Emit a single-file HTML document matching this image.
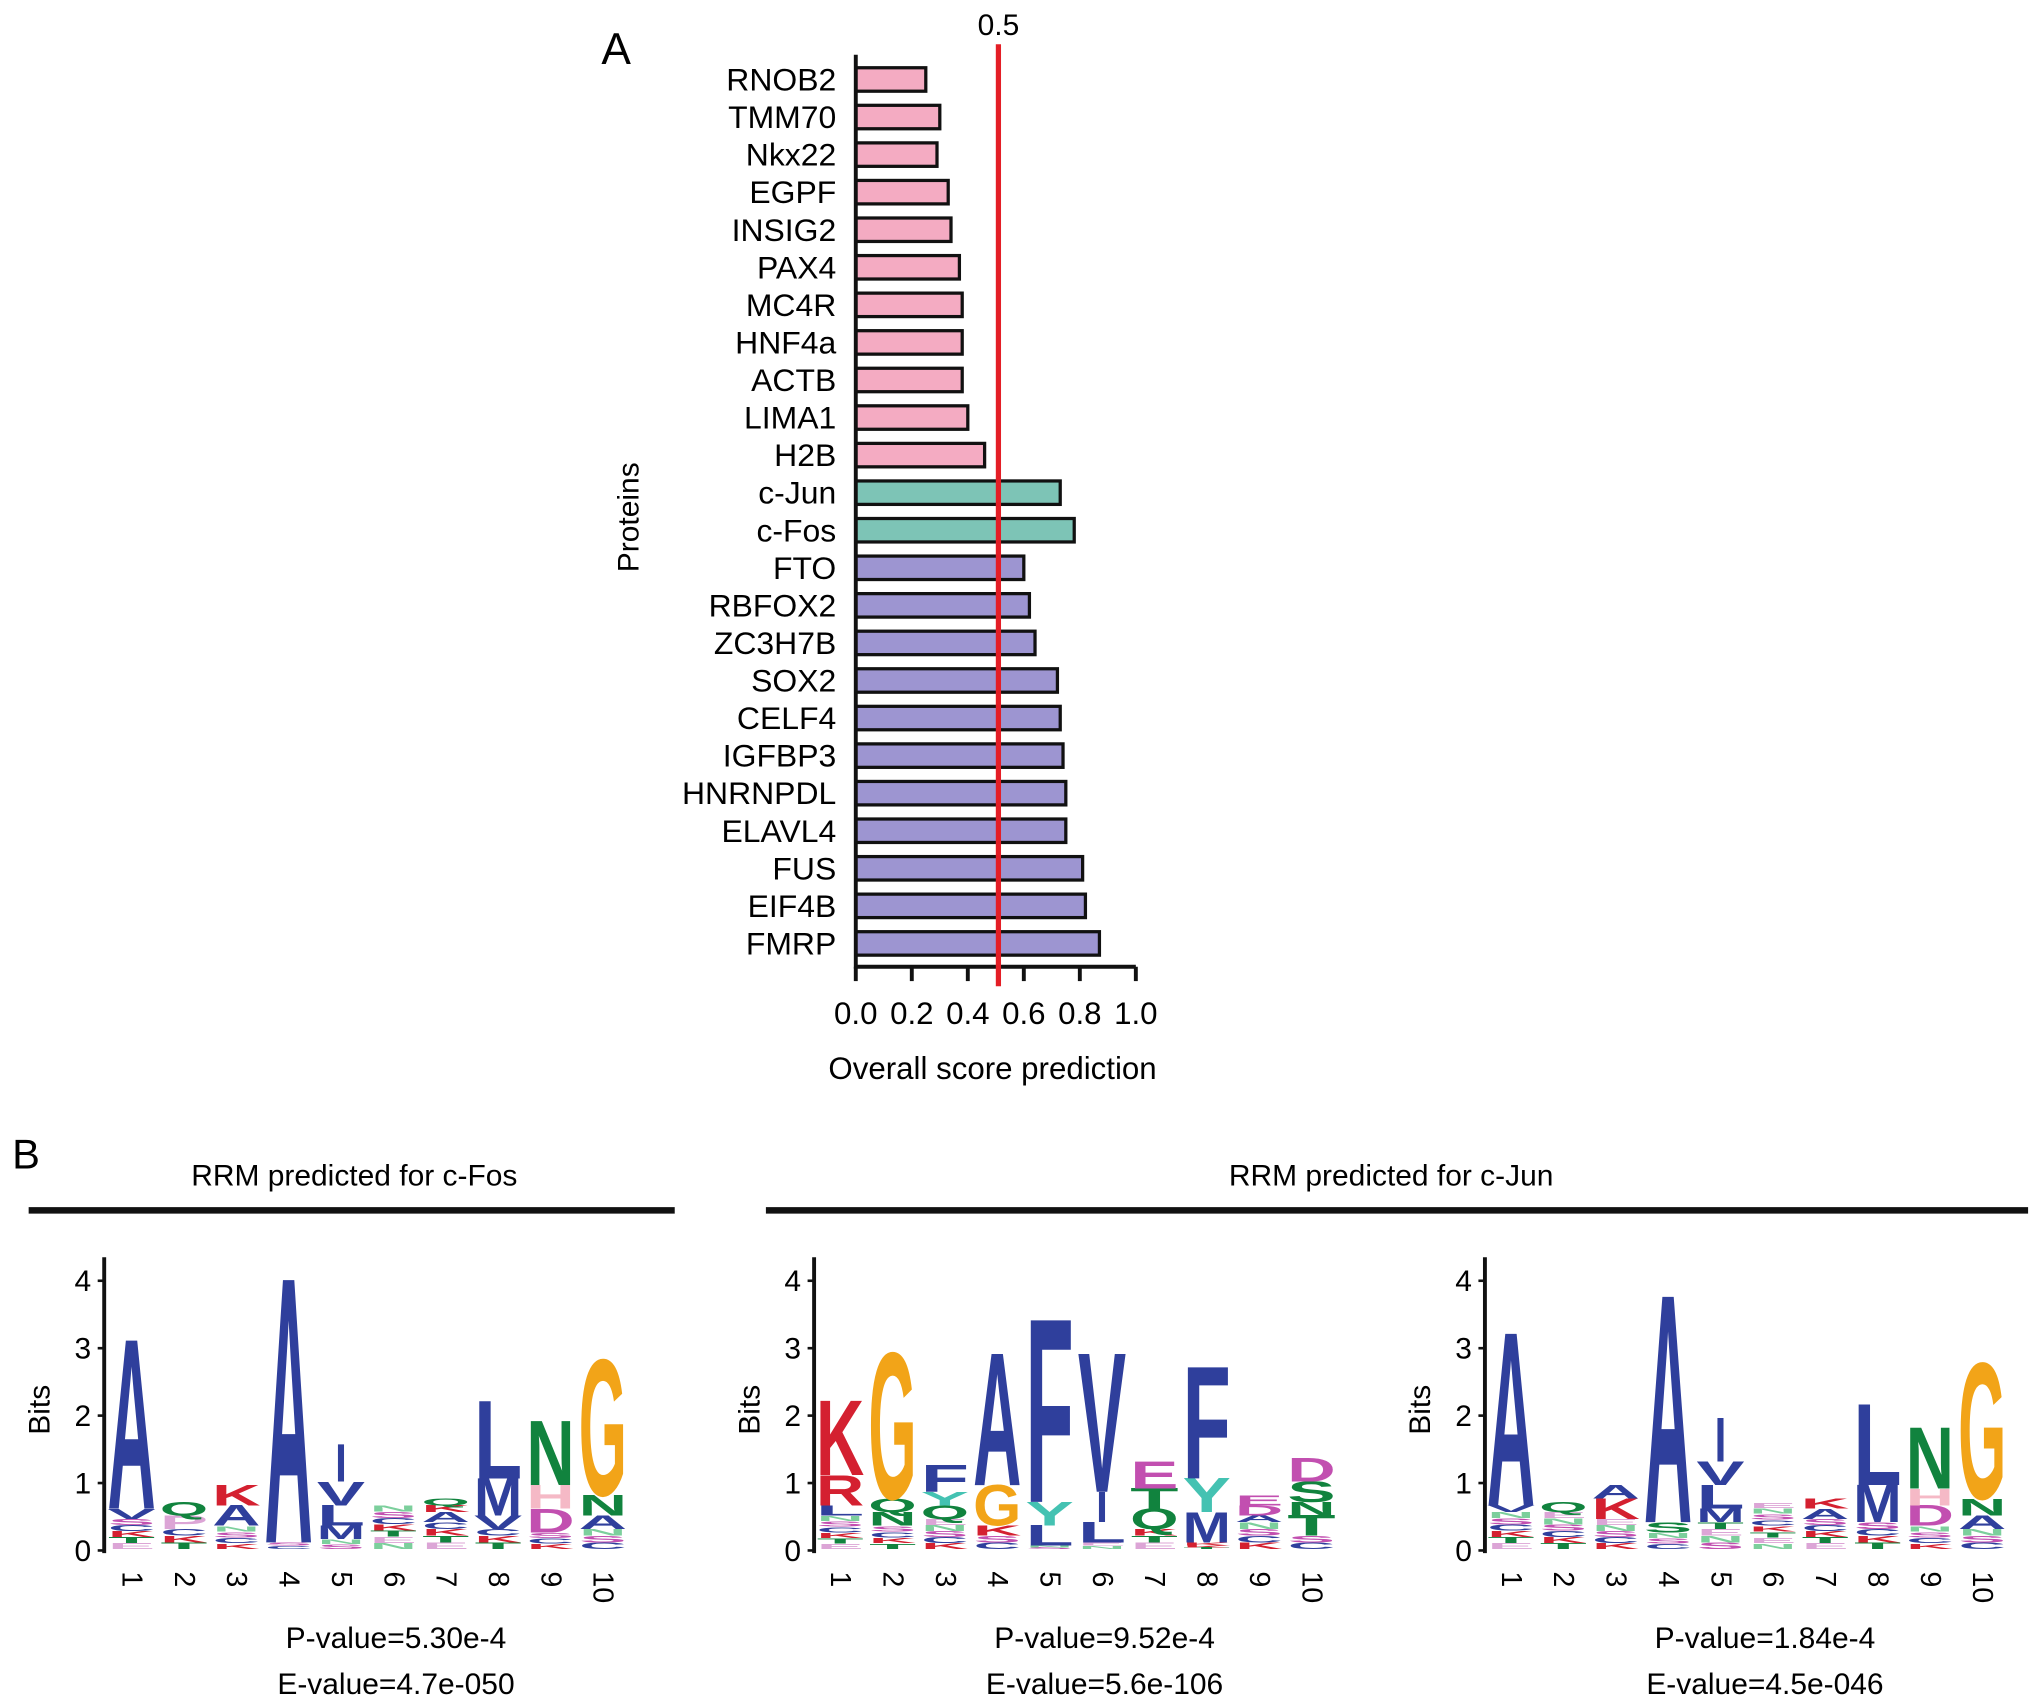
<!DOCTYPE html>
<html><head><meta charset="utf-8"><style>
html,body{margin:0;padding:0;background:#fff;}
svg{display:block;}
text{font-family:"Liberation Sans",Arial,sans-serif;}
</style></head><body>
<svg id="fig" width="2032" height="1699" viewBox="0 0 1560 1304" preserveAspectRatio="none" xmlns="http://www.w3.org/2000/svg">
<g id="panelA"></g>
<g id="panelB"></g>
</svg>
<script>
// ---------- Panel A data ----------
const proteins = ["RNOB2","TMM70","Nkx22","EGPF","INSIG2","PAX4","MC4R","HNF4a","ACTB","LIMA1","H2B","c-Jun","c-Fos","FTO","RBFOX2","ZC3H7B","SOX2","CELF4","IGFBP3","HNRNPDL","ELAVL4","FUS","EIF4B","FMRP"];
const scores = [0.25,0.30,0.29,0.33,0.34,0.37,0.38,0.38,0.38,0.40,0.46,0.73,0.78,0.60,0.62,0.64,0.72,0.73,0.74,0.75,0.75,0.81,0.82,0.87];
const groups = ["neg","neg","neg","neg","neg","neg","neg","neg","neg","neg","neg","target","target","pos","pos","pos","pos","pos","pos","pos","pos","pos","pos","pos"];
const xTicks = [0.0,0.2,0.4,0.6,0.8,1.0];
const threshold = 0.5;

// ---------- Panel B data (stacks bottom->top: [letter, bits]; number = filler bits) ----------
const logoFos = [
 [0.45,["V",0.15],["A",2.5]],
 [0.3,["P",0.2],["Q",0.2]],
 [0.35,["A",0.3],["K",0.3]],
 [0.1,["A",3.9]],
 [0.15,["M",0.2],["L",0.3],["V",0.35],["I",0.55]],
 [0.65],
 [0.4,["A",0.15],["K",0.1],["Q",0.1]],
 [0.3,["V",0.2],["M",0.55],["L",1.15]],
 [0.25,["D",0.35],["H",0.35],["N",0.95]],
 [0.3,["A",0.2],["N",0.3],["G",2.0]]
];
const logoJun1 = [
 [0.5,["L",0.15],["R",0.45],["K",1.1]],
 [0.35,["N",0.2],["Q",0.2],["G",2.15]],
 [0.45,["Q",0.2],["Y",0.2],["F",0.4]],
 [0.2,["K",0.15],["G",0.6],["A",1.95]],
 [0.05,["L",0.3],["Y",0.35],["F",2.7]],
 [0.1,["L",0.3],["I",0.45],["V",2.05]],
 [0.3,["Q",0.3],["T",0.3],["E",0.4]],
 [0.05,["K",0.05],["M",0.45],["Y",0.5],["F",1.65]],
 [0.4,["A",0.1],["D",0.15],["E",0.15]],
 [0.2,["T",0.3],["N",0.2],["S",0.3],["D",0.35]]
];
const logoJun2 = [
 [0.55,["V",0.1],["A",2.55]],
 [0.55,["Q",0.15]],
 [0.45,["K",0.3],["A",0.2]],
 [0.25,["S",0.15],["A",3.35]],
 [0.4,["M",0.2],["L",0.35],["V",0.35],["I",0.65]],
 [0.7],
 [0.45,["A",0.15],["K",0.15]],
 [0.4,["M",0.55],["L",1.2]],
 [0.35,["D",0.3],["H",0.25],["N",0.9]],
 [0.3,["A",0.2],["N",0.25],["G",2.0]]
];
const bitTicks = [0,1,2,3,4];

const NS = "http://www.w3.org/2000/svg";
function mk(tag, attrs, parent, txt){
  const e = document.createElementNS(NS, tag);
  for (const k in attrs) e.setAttribute(k, attrs[k]);
  if (txt !== undefined) e.textContent = txt;
  parent.appendChild(e);
  return e;
}

// ---------- Panel A ----------
const A = document.getElementById('panelA');
const x0 = 657, x1 = 872;
const xs = v => x0 + v*(x1-x0);
const rowY = i => 61 + i*28.83;
const colors = {neg:"#f4abc2", target:"#7dc4b6", pos:"#9d95d1"};

let t = mk('text',{x:473,y:49,'font-size':34,'text-anchor':'middle'},A,"A");



proteins.forEach((p,i)=>{
  const r = mk('rect',{x:xs(0),y:rowY(i)-9,width:xs(scores[i])-xs(0),height:18,fill:colors[groups[i]],stroke:'#111','stroke-width':2.5},A);
  
  
  const l = mk('text',{x:642,y:rowY(i)+8.5,'font-size':24.5,'text-anchor':'end'},A,p);
  
  
});
let ax = mk('path',{d:`M${x0},42 V742 H${x1}`,fill:'none',stroke:'#111','stroke-width':3},A);


xTicks.forEach(v=>{
  const tk = mk('line',{x1:xs(v),x2:xs(v),y1:742,y2:753,stroke:'#111','stroke-width':3},A);
  
  
  const tl = mk('text',{x:xs(v),y:786,'font-size':24,'text-anchor':'middle'},A,v.toFixed(1));
  
  
});
let rl = mk('line',{x1:xs(threshold)+2,x2:xs(threshold)+2,y1:34,y2:757,stroke:'#e41e26','stroke-width':4},A);


let rlt = mk('text',{x:xs(threshold)+2,y:27,'font-size':23,'text-anchor':'middle'},A,"0.5");


let xt = mk('text',{x:762,y:828,'font-size':24,'text-anchor':'middle'},A,"Overall score prediction");


let yt = mk('text',{x:0,y:0,'font-size':23,'text-anchor':'middle',transform:'translate(490,397) rotate(-90)'},A,"Proteins");



// ---------- Panel B ----------
const B = document.getElementById('panelB');
let bl = mk('text',{x:20,y:897,'font-size':32,'text-anchor':'middle'},B,"B");


[[272,"RRM predicted for c-Fos",22,518],[1068,"RRM predicted for c-Jun",588,1557]].forEach(([cx,s,a,b],k)=>{
  const tt = mk('text',{x:cx,y:910,'font-size':23,'text-anchor':'middle'},B,s);
  
  
  const ln = mk('line',{x1:a,x2:b,y1:929,y2:929,stroke:'#111','stroke-width':5},B);
  
  
});

const letterColor = {A:"#2f3f9c",V:"#2f3f9c",L:"#2f3f9c",M:"#2f3f9c",F:"#2f3f9c",I:"#2f3f9c",W:"#2f3f9c",C:"#2f3f9c",
  K:"#d42030",R:"#d42030",N:"#11833e",Q:"#11833e",S:"#11833e",T:"#11833e",G:"#f2a418",
  D:"#c24fb0",E:"#c24fb0",H:"#f5b9c6",P:"#dca5d6",Y:"#44c2b2"};
const fillerSeq = [["E","#dca5d6"],["T","#11833e"],["K","#d42030"],["C","#2f3f9c"],["S","#c24fb0"],["N","#7ccf9c"]];
const bitPx = 51.75;
function drawLetter(g, ch, x, w, yBase, h, col){
  if (h < 0.5) return;
  if (ch === "I") w = 9;
  mk('text',{x:0,y:0,'font-size':100,'font-weight':'bold',textLength:66,lengthAdjust:'spacingAndGlyphs',fill:col,
    transform:`translate(${x-w/2},${yBase}) scale(${w/66},${h/69})`},g,ch);
}
function drawLogo(data, axisX, colX0, name, pv, ev, pvx){
  const g = mk('g',{},B);
  
  
  const y0 = 1190;
  const yb = b => y0 - b*bitPx;
  const colX = i => colX0 + i*40.2;
  data.forEach((stack,i)=>{
    let cur = 0.02;
    const cx = colX(i);
    const cg = mk('g',{},g);
    
    
    stack.forEach((it)=>{
      if (typeof it === 'number'){
        const n = Math.max(2, Math.round(it/0.09));
        for (let q=0;q<n;q++){
          const f = fillerSeq[(q+i)%fillerSeq.length];
          drawLetter(cg,f[0],cx,36,yb(cur+q*it/n),(it/n)*bitPx*0.9,f[1]);
        }
        cur += it;
      } else {
        drawLetter(cg,it[0],cx,37,yb(cur),it[1]*bitPx,letterColor[it[0]]);
        cur += it[1];
      }
    });
    const lab = mk('text',{x:0,y:0,'font-size':22,transform:`translate(${cx-7},1206) rotate(90)`},g,String(i+1));
    
    
  });
  const a = mk('line',{x1:axisX,x2:axisX,y1:965,y2:1192,stroke:'#111','stroke-width':3},g);
  
  
  bitTicks.forEach(b=>{
    const tk = mk('line',{x1:axisX-5,x2:axisX,y1:yb(b),y2:yb(b),stroke:'#111','stroke-width':2},g);
    
    
    const tl = mk('text',{x:axisX-10,y:yb(b)+8,'font-size':23,'text-anchor':'end'},g,String(b));
    
    
  });
  const bt = mk('text',{x:0,y:0,'font-size':23,'text-anchor':'middle',transform:`translate(${axisX-42},1082) rotate(-90)`},g,"Bits");
  
  
  const p = mk('text',{x:pvx,y:1265,'font-size':23,'text-anchor':'middle'},g,pv);
  
  
  const e = mk('text',{x:pvx,y:1300,'font-size':23,'text-anchor':'middle'},g,ev);
  
  
}
drawLogo(logoFos, 80, 101, 'logo-c-fos', 'P-value=5.30e-4', 'E-value=4.7e-050', 304);
drawLogo(logoJun1, 625, 645, 'logo-c-jun-1', 'P-value=9.52e-4', 'E-value=5.6e-106', 848);
drawLogo(logoJun2, 1140, 1160, 'logo-c-jun-2', 'P-value=1.84e-4', 'E-value=4.5e-046', 1355);
</script>
</body></html>
